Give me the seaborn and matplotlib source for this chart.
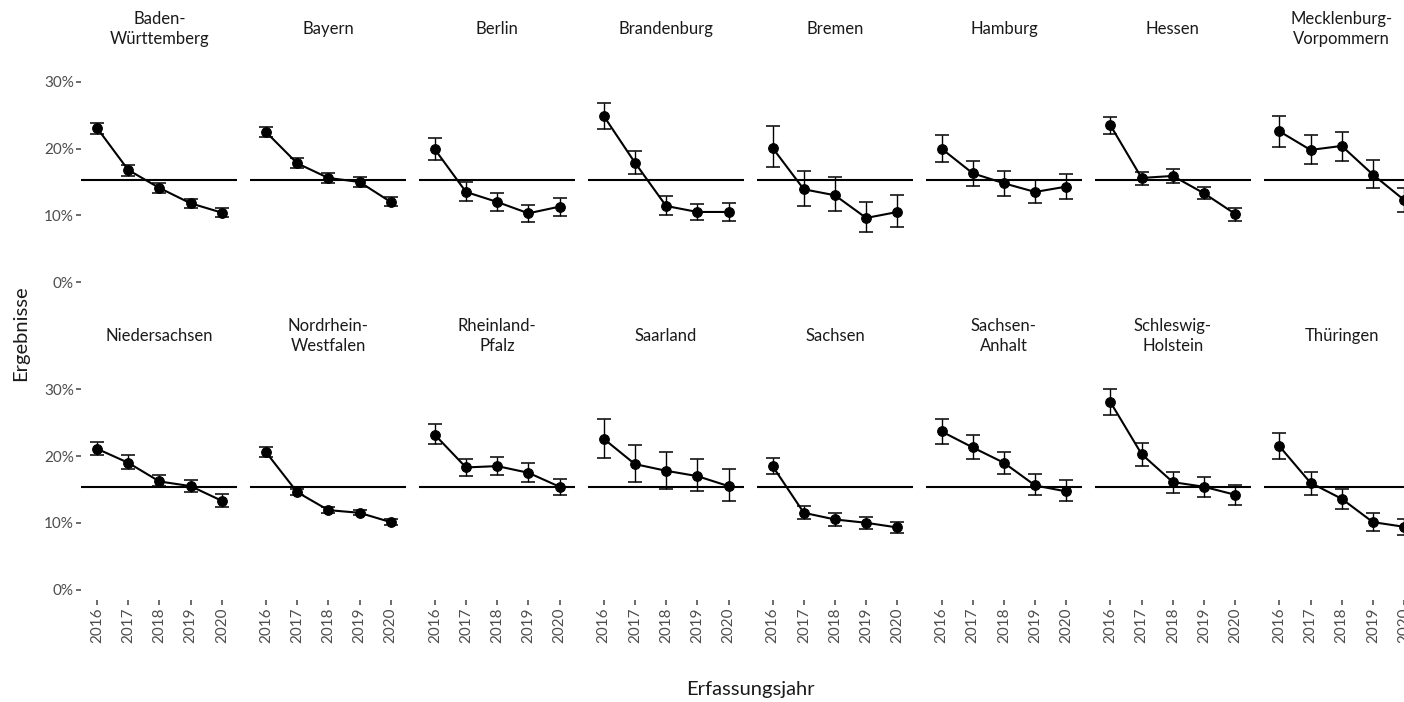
import matplotlib
matplotlib.use("Agg")
import matplotlib.pyplot as plt
import seaborn as sns
import pandas as pd
from matplotlib.ticker import FuncFormatter

jahre = [2016, 2017, 2018, 2019, 2020]
laender = [
    "Baden-\nWürttemberg", "Bayern", "Berlin", "Brandenburg", "Bremen", "Hamburg", "Hessen",
    "Mecklenburg-\nVorpommern", "Niedersachsen", "Nordrhein-\nWestfalen", "Rheinland-\nPfalz",
    "Saarland", "Sachsen", "Sachsen-\nAnhalt", "Schleswig-\nHolstein", "Thüringen",
]
mittel = [
    [23.1, 16.8, 14.1, 11.8, 10.4],
    [22.5, 17.8, 15.6, 15.0, 12.0],
    [19.9, 13.5, 12.0, 10.3, 11.3],
    [24.9, 17.9, 11.4, 10.5, 10.5],
    [20.1, 13.9, 13.0, 9.6, 10.5],
    [20.0, 16.3, 14.8, 13.5, 14.3],
    [23.5, 15.6, 15.9, 13.3, 10.2],
    [22.6, 19.8, 20.4, 16.1, 12.3],
    [21.1, 19.0, 16.2, 15.5, 13.3],
    [20.6, 14.6, 11.9, 11.5, 10.1],
    [23.2, 18.3, 18.5, 17.5, 15.4],
    [22.6, 18.8, 17.8, 17.0, 15.5],
    [18.5, 11.5, 10.5, 10.0, 9.3],
    [23.7, 21.3, 19.0, 15.6, 14.7],
    [28.1, 20.3, 16.1, 15.4, 14.2],
    [21.5, 16.0, 13.6, 10.1, 9.4],
]
unten = [
    [22.2, 15.9, 13.3, 11.1, 9.8],
    [21.7, 17.1, 14.9, 14.3, 11.4],
    [18.3, 12.1, 10.7, 9.0, 9.9],
    [22.9, 16.2, 10.0, 9.3, 9.2],
    [17.3, 11.4, 10.7, 7.5, 8.2],
    [18.0, 14.4, 12.9, 11.8, 12.4],
    [22.2, 14.5, 14.8, 12.4, 9.2],
    [20.3, 17.7, 18.2, 14.1, 10.5],
    [20.1, 18.0, 15.5, 14.6, 12.4],
    [19.9, 14.1, 11.5, 11.1, 9.6],
    [21.8, 17.0, 17.1, 16.1, 14.1],
    [19.7, 16.1, 15.1, 14.7, 13.2],
    [17.3, 10.5, 9.5, 9.1, 8.4],
    [21.8, 19.5, 17.3, 14.1, 13.2],
    [26.1, 18.5, 14.5, 13.8, 12.7],
    [19.6, 14.2, 12.0, 8.7, 8.2],
]
oben = [
    [23.9, 17.6, 14.9, 12.5, 11.1],
    [23.3, 18.6, 16.3, 15.7, 12.7],
    [21.6, 15.0, 13.4, 11.5, 12.6],
    [26.9, 19.7, 12.9, 11.7, 11.8],
    [23.4, 16.7, 15.8, 12.0, 13.0],
    [22.0, 18.1, 16.6, 15.3, 16.2],
    [24.7, 16.5, 16.9, 14.2, 11.1],
    [24.9, 22.0, 22.5, 18.3, 14.1],
    [22.1, 20.1, 17.1, 16.4, 14.3],
    [21.4, 15.1, 12.3, 11.9, 10.6],
    [24.8, 19.6, 19.8, 18.9, 16.6],
    [25.6, 21.6, 20.6, 19.6, 18.1],
    [19.7, 12.5, 11.4, 10.9, 10.1],
    [25.6, 23.1, 20.6, 17.3, 16.4],
    [30.1, 22.0, 17.6, 16.9, 15.6],
    [23.4, 17.6, 15.0, 11.4, 10.6],
]
referenz = 15.3
y_ticks = [0, 10, 20, 30]

rows = []
for land, m, lo, hi in zip(laender, mittel, unten, oben):
    for j, a, b, c in zip(jahre, m, lo, hi):
        rows.append({"Land": land, "Jahr": j, "Wert": a, "Unten": b, "Oben": c})
df = pd.DataFrame(rows)

sns.set_theme(style="white")
plt.rcParams["font.family"] = ["Lato", "DejaVu Sans"]

W, H = 1404, 702
fig = plt.figure(figsize=(W / 100, H / 100), dpi=100)

px_per = 6.67
ylo, yhi = -1.5, 31.5
ax_h = (yhi - ylo) * px_per
zero_px = [282.0, 589.5]
panel_w = 156.0
step = 168.9
left0 = 81.4

tick_col = "#4d4d4d"

for idx, land in enumerate(laender):
    r, c = divmod(idx, 8)
    left = left0 + c * step
    bottom_px = zero_px[r] - ylo * px_per
    top_px = bottom_px - ax_h
    ax = fig.add_axes([left / W, (H - bottom_px) / H, panel_w / W, ax_h / H])
    sub = df[df["Land"] == land]
    ax.axhline(referenz, color="black", lw=1.5, zorder=1)
    ax.errorbar(sub["Jahr"], sub["Wert"],
                yerr=[sub["Wert"] - sub["Unten"], sub["Oben"] - sub["Wert"]],
                fmt="none", ecolor="black", elinewidth=1.0, capsize=4.8, capthick=1.1, zorder=2)
    sns.lineplot(data=sub, x="Jahr", y="Wert", ax=ax, color="black", lw=1.5,
                 marker="o", markersize=7, markeredgecolor="black", errorbar=None, zorder=3)
    ax.set_xlim(2015.5, 2020.5)
    ax.set_ylim(ylo, yhi)
    for s in ax.spines.values():
        s.set_visible(False)
    ax.set_xlabel("")
    ax.set_ylabel("")
    ax.set_xticks(jahre)
    ax.set_yticks(y_ticks)
    ax.yaxis.set_major_formatter(FuncFormatter(lambda v, p: f"{v:.0f}%"))
    ax.tick_params(axis="both", which="both", direction="out", length=3.5, width=1.1,
                   color="#444444", labelcolor=tick_col, labelsize=11, pad=2)
    if r == 1:
        ax.set_xticklabels([str(j) for j in jahre], rotation=90)
        ax.tick_params(axis="x", bottom=True)
    else:
        ax.tick_params(axis="x", bottom=False, labelbottom=False)
    if c == 0:
        ax.tick_params(axis="y", left=True)
    else:
        ax.tick_params(axis="y", left=False, labelleft=False)
    title_center_px = top_px - 43
    ax.text(0.5, 1 + (top_px - title_center_px) / ax_h, land, transform=ax.transAxes,
            ha="center", va="center", fontsize=12, color="#1a1a1a", linespacing=1.3)

fig.text(750 / W, 1 - 690 / H, "Erfassungsjahr", ha="center", va="center",
         fontsize=14.5, color="#1a1a1a")
fig.text(21 / W, 1 - 333 / H, "Ergebnisse", ha="center", va="center", rotation=90,
         fontsize=14.5, color="#1a1a1a")

fig.savefig("out.png", dpi=100, facecolor="white")
